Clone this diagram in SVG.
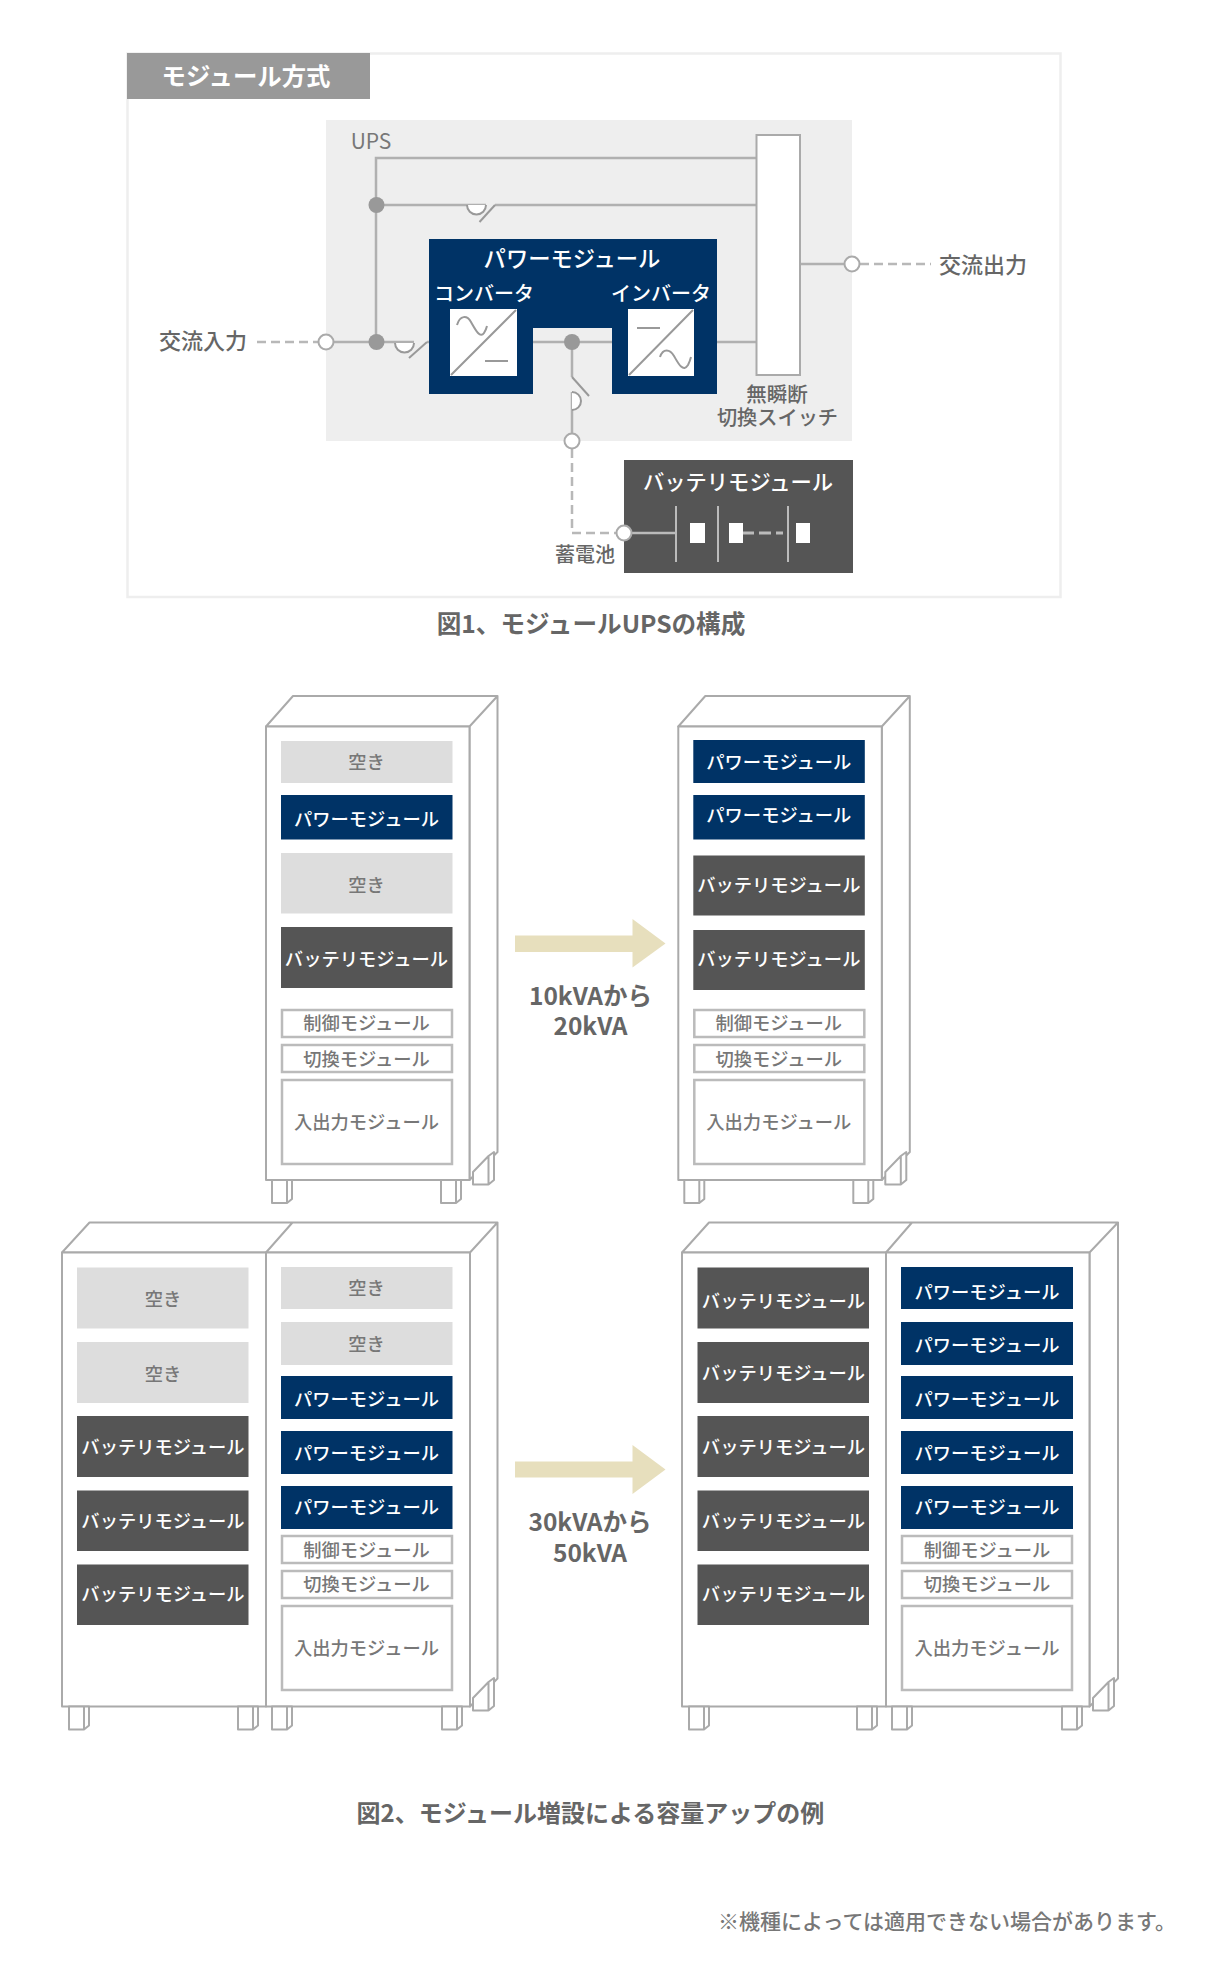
<svg xmlns="http://www.w3.org/2000/svg" xmlns:xlink="http://www.w3.org/1999/xlink" width="1206" height="1974" viewBox="0 0 1206 1974">
<style>
text{font-family:"Noto Sans CJK JP","Noto Sans",sans-serif;text-anchor:middle;dominant-baseline:central;font-size:18.300px;transform:translateY(-1.500px)}
.tw{fill:#fff;font-weight:500}
.tg{fill:#777;font-weight:500}
.tl{fill:#666;font-size:22px;font-weight:500}
.tc{fill:#666;font-size:24.600px;font-weight:700}
.p{fill:#003366}
.b{fill:#555}
.e{fill:#ddd}
.o{fill:#fff;stroke:#bbb;stroke-width:2.5}
.line{fill:none;stroke:#b0b0b0;stroke-width:2.5}
.dash{fill:none;stroke:#b8b8b8;stroke-width:2.5;stroke-dasharray:9 5}
.thin{fill:none;stroke:#999;stroke-width:2}
.rk{fill:#fff;stroke:#aaa;stroke-width:2;stroke-linejoin:round}
.dot{fill:#999}
.open{fill:#fff;stroke:#aaa;stroke-width:2}
.arrow{fill:#e7dfbd}
</style>
<defs>
<g id="leg"><path class="rk" d="M15 0H20V19L15 23H0V0H15V23"/></g>
<g id="backleg"><path class="rk" d="M0 -4L15.500 -20V8.500H0ZM15.500 -20L21 -24V4L15.500 8.500"/></g>
</defs>

<g id="panel1">
<rect x="127.500" y="53.500" width="933" height="543.500" fill="#fff" stroke="#eee" stroke-width="2.500"/>
</g>
<g id="title-tab">
<rect x="127" y="53" width="243" height="46" fill="#999"/>
<text class="tw" x="246" y="76" style="font-size:24.400px;font-weight:700">モジュール方式</text>
</g>
<g id="ups">
<rect x="326" y="120" width="526" height="321" fill="#eee"/>
<text x="371" y="141" style="fill:#777;font-size:21px">UPS</text>
</g>

<g id="connectors">
<path class="line" d="M376 342V158H757"/>
<path class="line" d="M376 205H486M495 205H757"/>
<path class="thin" d="M467 205A9.500 9.500 0 0 0 486 205" style="fill:#fff"/>
<path class="thin" d="M479.500 222L495 205"/>
<path class="line" d="M326 342H414M427 342H450"/>
<path class="thin" d="M395 343A9.500 9.500 0 0 0 414 343" style="fill:#fff"/>
<path class="thin" d="M409 358L427 342"/>
<path class="line" d="M517 342H628M694 342H756"/>
<path class="line" d="M572 342V377M572 392V441"/>
<path class="thin" d="M572 377L589 396"/>
<path class="thin" d="M572 392A9 9 0 0 1 572 410" style="fill:#fff"/>
<path class="dash" d="M257 342H318"/>
<path class="line" d="M800 264H852"/>
<path class="dash" d="M860 264H931"/>
<path class="dash" d="M572 449V533H616"/>
<path id="arrow1" class="arrow" d="M515 935.500H632.500V919L665.500 943.500L632.500 967.500V952H515Z"/>
<path id="arrow2" class="arrow" d="M515 1461.500H632.500V1445L665.500 1469.500L632.500 1494V1477.500H515Z"/>
</g>

<g id="switch">
<rect x="756.500" y="135" width="43.500" height="240" fill="#fff" stroke="#aaa" stroke-width="2"/>
<text class="tl" x="777" y="394" style="font-size:20.500px">無瞬断</text>
<text class="tl" x="777.500" y="418" style="font-size:20.200px">切換スイッチ</text>
</g>

<g id="junctions">
<circle class="dot" cx="376.500" cy="205" r="8"/>
<circle class="dot" cx="376.500" cy="342" r="8"/>
<circle class="dot" cx="572" cy="342" r="8"/>
<circle class="open" cx="326" cy="342" r="7.500"/>
<circle class="open" cx="852" cy="264" r="7.500"/>
<circle class="open" cx="572" cy="441" r="7.500"/>
</g>

<g id="label-in"><text class="tl" x="203" y="340">交流入力</text></g>
<g id="label-out"><text class="tl" x="983" y="264">交流出力</text></g>

<g id="power-module">
<path class="p" d="M429 239H717V394H612V328H533V394H429Z"/>
<text class="tw" x="572" y="258" style="font-size:22.300px">パワーモジュール</text>
<text class="tw" x="484" y="294" style="font-size:20px">コンバータ</text>
<text class="tw" x="661" y="294" style="font-size:20px">インバータ</text>
<rect x="450" y="309" width="67" height="67" fill="#fff"/>
<path class="thin" d="M451 375L516 310M485 361H508M457 325C460 315 467 315 471 322S480 339 484 333Q486 330 487 326"/>
<rect x="628" y="309" width="66" height="67" fill="#fff"/>
<path class="thin" d="M629 375L693 310M637 328H660M660 357C663 348 670 349 674 356S683 373 688 365Q690 361 691 357"/>
</g>

<g id="battery-module">
<rect class="b" x="624" y="460" width="229" height="113"/>
<text class="tw" x="738" y="482" style="font-size:21.300px">バッテリモジュール</text>
<path class="line" d="M632 533H676" style="stroke:#bbb"/>
<path d="M676 506V562M718 506V562M788 506V562" fill="none" stroke="#bbb" stroke-width="2"/>
<path d="M742 533H783" fill="none" stroke="#bbb" stroke-width="3" stroke-dasharray="12 5"/>
<rect x="690" y="523" width="15" height="20" fill="#fff"/>
<rect x="729" y="523" width="14" height="20" fill="#fff"/>
<rect x="796" y="523" width="14" height="20" fill="#fff"/>
<circle class="open" cx="624" cy="533" r="7.500"/>
</g>
<g id="label-battery"><text class="tl" x="585" y="555" style="font-size:20px">蓄電池</text></g>

<g id="caption1"><text class="tc" x="591" y="623">図1、モジュールUPSの構成</text></g>

<g id="rack1">
<path class="rk" d="M266 726.500L293 696H497.500L469.500 726.500ZM469.500 726.500L497.500 696V1152L469.500 1180Z"/>
<use href="#backleg" x="473" y="1176"/>
<rect class="rk" x="266" y="726.500" width="203.500" height="453.500"/>
<use href="#leg" x="272" y="1180"/><use href="#leg" x="441" y="1180"/>
<rect class="e" x="281" y="741" width="171.500" height="42"/><text class="tg" x="366.500" y="762">空き</text>
<rect class="p" x="281" y="795" width="171.500" height="44.500"/><text class="tw" x="366.500" y="819">パワーモジュール</text>
<rect class="e" x="281" y="853" width="171.500" height="60.500"/><text class="tg" x="366.500" y="885">空き</text>
<rect class="b" x="281" y="927" width="171.500" height="61"/><text class="tw" x="366.500" y="959">バッテリモジュール</text>
<rect class="o" x="282" y="1010" width="170" height="27"/><text class="tg" x="366.500" y="1023.500">制御モジュール</text>
<rect class="o" x="282" y="1045" width="170" height="27"/><text class="tg" x="366.500" y="1059">切換モジュール</text>
<rect class="o" x="282" y="1080" width="170" height="84"/><text class="tg" x="366.500" y="1122">入出力モジュール</text>
</g>

<g id="rack2" transform="translate(412.300 0)">
<path class="rk" d="M266 726.500L293 696H497.500L469.500 726.500ZM469.500 726.500L497.500 696V1152L469.500 1180Z"/>
<use href="#backleg" x="473" y="1176"/>
<rect class="rk" x="266" y="726.500" width="203.500" height="453.500"/>
<use href="#leg" x="272" y="1180"/><use href="#leg" x="441" y="1180"/>
<rect class="p" x="281" y="740" width="171.500" height="43"/><text class="tw" x="366.500" y="762">パワーモジュール</text>
<rect class="p" x="281" y="795" width="171.500" height="44.500"/><text class="tw" x="366.500" y="815">パワーモジュール</text>
<rect class="b" x="281" y="855.500" width="171.500" height="60"/><text class="tw" x="366.500" y="885.500">バッテリモジュール</text>
<rect class="b" x="281" y="930" width="171.500" height="60"/><text class="tw" x="366.500" y="959.500">バッテリモジュール</text>
<rect class="o" x="282" y="1010" width="170" height="27"/><text class="tg" x="366.500" y="1023.500">制御モジュール</text>
<rect class="o" x="282" y="1045" width="170" height="27"/><text class="tg" x="366.500" y="1059">切換モジュール</text>
<rect class="o" x="282" y="1080" width="170" height="84"/><text class="tg" x="366.500" y="1122">入出力モジュール</text>
</g>

<g id="label-arrow1">
<text class="tc" x="590.500" y="996" style="font-size:24.500px">10kVAから</text>
<text class="tc" x="590.500" y="1026" style="font-size:24.500px">20kVA</text>
</g>

<g id="rack3">
<path class="rk" d="M62 1252.500L89.500 1222.500H497.500L470 1252.500ZM266 1252.500L292.500 1222.500M470 1252.500L497.500 1222.500V1678.500L470 1706.500Z"/>
<use href="#backleg" x="473" y="1702"/>
<rect class="rk" x="62" y="1252.500" width="204" height="454"/>
<rect class="rk" x="266" y="1252.500" width="204" height="454"/>
<use href="#leg" x="69" y="1706.500"/><use href="#leg" x="238" y="1706.500"/><use href="#leg" x="272" y="1706.500"/><use href="#leg" x="442" y="1706.500"/>
<rect class="e" x="77" y="1267.500" width="171.500" height="61"/><text class="tg" x="163" y="1299">空き</text>
<rect class="e" x="77" y="1342" width="171.500" height="61"/><text class="tg" x="163" y="1374.500">空き</text>
<rect class="b" x="77" y="1416" width="171.500" height="61"/><text class="tw" x="163" y="1447.500">バッテリモジュール</text>
<rect class="b" x="77" y="1490.500" width="171.500" height="60.500"/><text class="tw" x="163" y="1521">バッテリモジュール</text>
<rect class="b" x="77" y="1564.500" width="171.500" height="60.500"/><text class="tw" x="163" y="1594.500">バッテリモジュール</text>
<rect class="e" x="281" y="1267" width="171.500" height="42"/><text class="tg" x="366.500" y="1288.500">空き</text>
<rect class="e" x="281" y="1322" width="171.500" height="43"/><text class="tg" x="366.500" y="1344">空き</text>
<rect class="p" x="281" y="1376" width="171.500" height="43"/><text class="tw" x="366.500" y="1399">パワーモジュール</text>
<rect class="p" x="281" y="1431" width="171.500" height="43"/><text class="tw" x="366.500" y="1453">パワーモジュール</text>
<rect class="p" x="281" y="1486" width="171.500" height="43"/><text class="tw" x="366.500" y="1507">パワーモジュール</text>
<rect class="o" x="282" y="1536" width="170" height="27"/><text class="tg" x="366.500" y="1550">制御モジュール</text>
<rect class="o" x="282" y="1571" width="170" height="27"/><text class="tg" x="366.500" y="1584.500">切換モジュール</text>
<rect class="o" x="282" y="1606" width="170" height="84"/><text class="tg" x="366.500" y="1648">入出力モジュール</text>
</g>

<g id="label-arrow2">
<text class="tc" x="590" y="1521.500" style="font-size:24.500px">30kVAから</text>
<text class="tc" x="590" y="1552.500" style="font-size:24.500px">50kVA</text>
</g>

<g id="rack4">
<path class="rk" d="M682 1252.500L709 1222.500H1118L1089.500 1252.500ZM886 1252.500L912 1222.500M1089.500 1252.500L1118 1222.500V1678.500L1089.500 1706.500Z"/>
<use href="#backleg" x="1093" y="1702"/>
<rect class="rk" x="682" y="1252.500" width="204" height="454"/>
<rect class="rk" x="886" y="1252.500" width="203.500" height="454"/>
<use href="#leg" x="689" y="1706.500"/><use href="#leg" x="857" y="1706.500"/><use href="#leg" x="892" y="1706.500"/><use href="#leg" x="1062" y="1706.500"/>
<rect class="b" x="697.500" y="1267.500" width="171.500" height="61"/><text class="tw" x="783.500" y="1301">バッテリモジュール</text>
<rect class="b" x="697.500" y="1342" width="171.500" height="61"/><text class="tw" x="783.500" y="1373.500">バッテリモジュール</text>
<rect class="b" x="697.500" y="1416" width="171.500" height="61"/><text class="tw" x="783.500" y="1447.500">バッテリモジュール</text>
<rect class="b" x="697.500" y="1490.500" width="171.500" height="60.500"/><text class="tw" x="783.500" y="1521">バッテリモジュール</text>
<rect class="b" x="697.500" y="1564.500" width="171.500" height="60.500"/><text class="tw" x="783.500" y="1594.500">バッテリモジュール</text>
<rect class="p" x="901" y="1267" width="172" height="42"/><text class="tw" x="987" y="1292">パワーモジュール</text>
<rect class="p" x="901" y="1322" width="172" height="43"/><text class="tw" x="987" y="1345">パワーモジュール</text>
<rect class="p" x="901" y="1376" width="172" height="43"/><text class="tw" x="987" y="1399">パワーモジュール</text>
<rect class="p" x="901" y="1431" width="172" height="43"/><text class="tw" x="987" y="1453">パワーモジュール</text>
<rect class="p" x="901" y="1486" width="172" height="43"/><text class="tw" x="987" y="1507">パワーモジュール</text>
<rect class="o" x="902" y="1536" width="170" height="27"/><text class="tg" x="987" y="1550">制御モジュール</text>
<rect class="o" x="902" y="1571" width="170" height="27"/><text class="tg" x="987" y="1584.500">切換モジュール</text>
<rect class="o" x="902" y="1606" width="170" height="84"/><text class="tg" x="987" y="1648">入出力モジュール</text>
</g>

<g id="caption2"><text class="tc" x="590.500" y="1813" style="font-size:24px">図2、モジュール増設による容量アップの例</text></g>
<g id="note"><text x="947" y="1921" style="fill:#777;font-size:21px;font-weight:500">※機種によっては適用できない場合があります。</text></g>
</svg>
